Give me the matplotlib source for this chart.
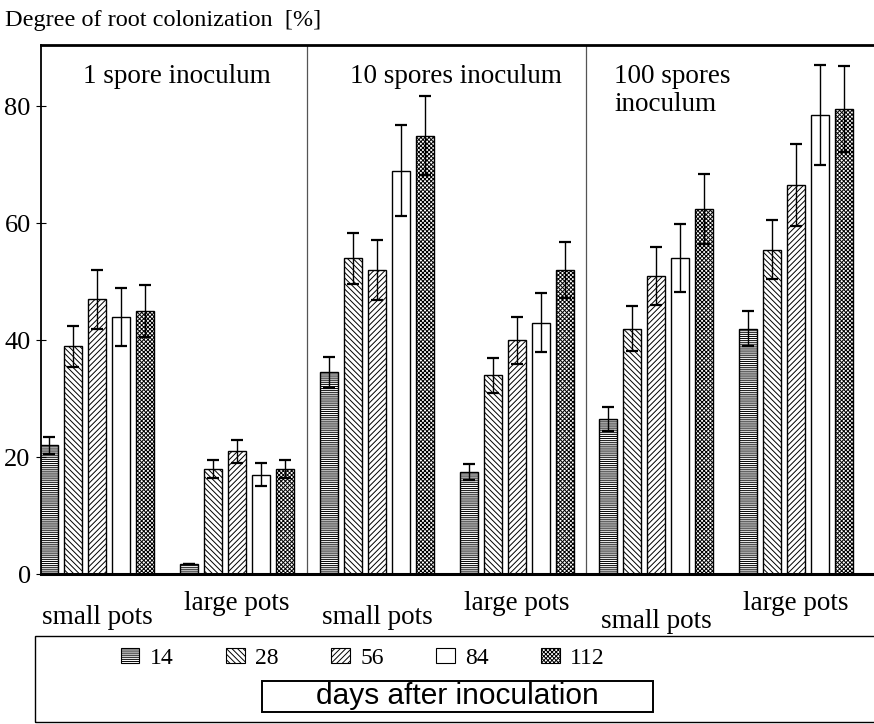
import numpy as np
import matplotlib.pyplot as plt
from matplotlib.patches import Patch, Rectangle

plt.rcParams['font.family'] = ['Liberation Serif', 'DejaVu Serif']
plt.rcParams['hatch.linewidth'] = 0.7
plt.rcParams['hatch.color'] = '#2a2a2a'

# groups: 1 spore small/large, 10 spores small/large, 100 spores small/large
group_labels = ['small pots', 'large pots'] * 3
panel_titles = ['1 spore inoculum', '10 spores inoculum', '100 spores\ninoculum']
days = ['14', '28', '56', '84', '112']

d14 = [22, 1.8, 34.5, 17.5, 26.5, 42]
d28 = [39, 18, 54, 34, 42, 55.5]
d56 = [47, 21, 52, 40, 51, 66.5]
d84 = [44, 17, 69, 43, 54, 78.5]
d112 = [45, 18, 75, 52, 62.5, 79.5]

e14 = [1.5, 0, 2.7, 1.4, 2, 3]
e28 = [3.5, 1.5, 4.4, 3, 3.8, 5]
e56 = [5, 2, 5.2, 4, 5, 7]
e84 = [5, 2, 7.8, 5, 5.8, 8.6]
e112 = [4.5, 1.5, 6.8, 4.8, 6, 7.4]

means = [d14, d28, d56, d84, d112]
errs = [e14, e28, e56, e84, e112]
hatches = ['--------', '\\\\\\\\\\\\', '//////', '', 'xxxxxxxx']

fig = plt.figure(figsize=(8.74, 7.24), dpi=100)
ax = fig.add_axes([0.047, 0.207, 0.953, 0.731])

centers = 2.35 + 5.82 * np.arange(6)
w = 0.75
for i, (m, e, h) in enumerate(zip(means, errs, hatches)):
    x = centers + (i - 2) * 1.0
    ax.bar(x, m, width=w, color='white', edgecolor='black', hatch=h,
           linewidth=1.0, label=days[i])
    ax.errorbar(x, m, yerr=e, fmt='none', ecolor='black', elinewidth=1.0,
                capsize=4.5, capthick=1.6)

# panel dividers
for k in (1, 2):
    xd = (centers[2 * k - 1] + centers[2 * k]) / 2
    ax.axvline(xd, color='#555555', lw=0.9)

ax.set_xlim(0, 34.7)
ax.set_ylim(0, 90.5)
ax.set_yticks([0, 20, 40, 60, 80])
ax.tick_params(axis='y', direction='inout', length=7, labelsize=19, pad=4)
ax.set_xticks([])
ax.spines['left'].set_linewidth(1.3)
ax.spines['top'].set_linewidth(2.0)
ax.spines['bottom'].set_linewidth(2.2)
ax.spines['right'].set_visible(False)

# panel titles
ax.text((centers[0] + centers[1]) / 2 + 0.4, 87.2, panel_titles[0], ha='center', va='top', fontsize=19.5)
ax.text((centers[2] + centers[3]) / 2 + 0.4, 87.2, panel_titles[1], ha='center', va='top', fontsize=19.5)
ax.text(centers[4] - 1.75, 87.2, panel_titles[2], ha='left', va='top', fontsize=19.5, linespacing=1.15)

# group labels below the axis
label_y = [-0.081, -0.055, -0.081, -0.055, -0.09, -0.055]
for j, lab in enumerate(group_labels):
    ax.text(centers[j], label_y[j], lab, ha='center', va='center', fontsize=19.5,
            transform=ax.get_xaxis_transform())

fig.text(0.006, 0.972, 'Degree of root colonization  [%]', fontsize=17.5, va='center', ha='left')

# legend box
fig.patches.append(Rectangle((0.04, 0.003), 0.97, 0.118, transform=fig.transFigure,
                             fill=False, edgecolor='black', lw=1.0))
handles = [Patch(facecolor='white', edgecolor='black', hatch=h, lw=0.8) for h in hatches]
fig.legend(handles, days, ncol=5, loc='center', bbox_to_anchor=(0.415, 0.091),
           frameon=False, fontsize=17, handlelength=0.8, handleheight=0.65,
           columnspacing=2.2, handletextpad=0.45)
fig.patches.append(Rectangle((0.300, 0.0166), 0.447, 0.0428, transform=fig.transFigure,
                             fill=False, edgecolor='black', lw=1.4))
fig.text(0.523, 0.0387, 'days after inoculation', ha='center', va='center', fontsize=21.5,
         family=['Liberation Sans Narrow', 'Liberation Sans', 'DejaVu Sans'])

fig.savefig('out.png', dpi=100)
